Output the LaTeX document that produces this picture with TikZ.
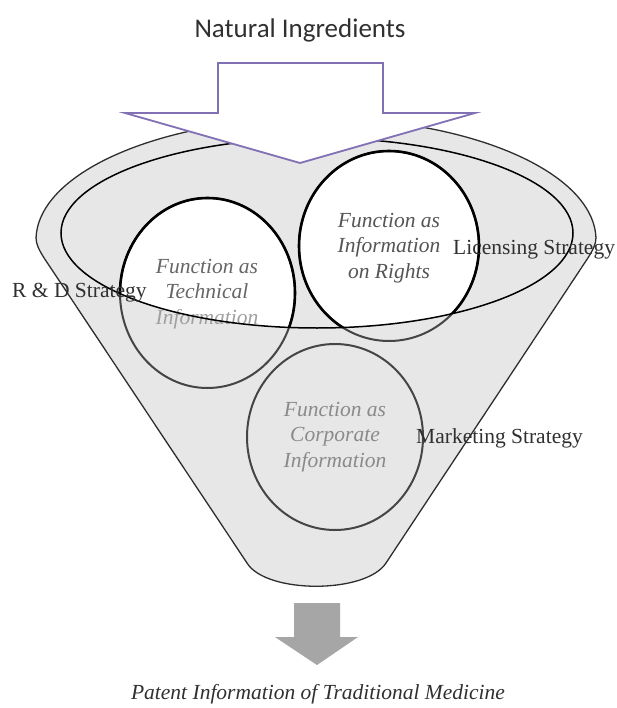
\documentclass[tikz,border=0pt]{standalone}
\usepackage{fontspec}
\setmainfont{Liberation Serif}
\newfontfamily\calib{Carlito}
\definecolor{fgray}{HTML}{E7E7E7}
\definecolor{outl}{HTML}{2E2E2E}
\definecolor{cgray}{HTML}{454545}
\definecolor{purp}{RGB}{130,112,180}
\definecolor{agray}{HTML}{A6A6A6}
\definecolor{tA}{HTML}{666666}
\definecolor{tB}{HTML}{A0A0A0}
\definecolor{tC}{HTML}{555555}
\definecolor{tD}{HTML}{8A8A8A}
\definecolor{lab}{HTML}{303030}
\begin{document}
\begin{tikzpicture}[x=1pt,y=-1pt,
  funnelstyle/.style={fill=fgray,draw=outl,line width=1.3pt},
  ellline/.style={draw=black,line width=1.5pt},
  outcirc/.style={draw=cgray,line width=2pt},
  incirc/.style={draw=black,line width=2.6pt},
  fn/.style={font=\fontsize{21.5}{25.5}\selectfont\itshape,align=center,inner sep=0pt},
  lbl/.style={font=\fontsize{21.5}{25.5}\selectfont,text=lab,inner sep=0pt},
  parrow/.style={fill=white,draw=purp,line width=1.8pt,line join=miter},
  garrow/.style={fill=agray,draw=none}]
\useasboundingbox (0,0) rectangle (616,708);
% funnel
\path[funnelstyle] (44.7,258.9) .. controls (39,250) and (36,244) .. (36.04,237.9)
  arc[start angle=181,end angle=359,x radius=280,y radius=122]
  .. controls (596,244) and (593,250) .. (587.3,258.9)
  -- (386,563) .. controls (366,594) and (266,594) .. (247,563) -- cycle;
% white intersections of the circles with the inner ellipse
\begin{scope}
  \clip (317,233) ellipse [x radius=256,y radius=95];
  \fill[white] (207.5,293) ellipse [x radius=87.5,y radius=95];
  \fill[white] (389,246) ellipse [x radius=90,y radius=95];
\end{scope}
% circle outlines (outside parts grey)
\draw[outcirc] (207.5,293) ellipse [x radius=87.5,y radius=95];
\draw[outcirc] (389,246) ellipse [x radius=90,y radius=95];
\draw[outcirc,fill=fgray] (335,437) ellipse [x radius=88,y radius=93];
% texts in circles
\node[fn,text=tA] (tech) at (207,294) {Function as\\Technical\\\textcolor{tB}{Information}};
\node[fn,text=tC] (rights) at (389,248) {Function as\\Information\\on Rights};
\node[fn,text=tD] (corp) at (335,437) {Function as\\Corporate\\Information};
% inner parts black
\begin{scope}
  \clip (317,233) ellipse [x radius=256,y radius=95];
  \draw[incirc] (207.5,293) ellipse [x radius=87.5,y radius=95];
  \draw[incirc] (389,246) ellipse [x radius=90,y radius=95];
\end{scope}
% inner ellipse line
\draw[ellline] (317,233) ellipse [x radius=256,y radius=95];
% purple arrow
\draw[parrow] (218,63) -- (383,63) -- (383,113) -- (475,113) -- (300,163) -- (125,113) -- (218,113) -- cycle;
% grey arrow
\fill[garrow] (294,603) -- (340,603) -- (340,637) -- (358,637) -- (317,665) -- (275,637) -- (294,637) -- cycle;
% labels
\node[lbl,anchor=west] (rd) at (12,293) {R \& D Strategy};
\node[lbl,anchor=west] (lic) at (453,250) {Licensing Strategy};
\node[lbl,anchor=west] (mkt) at (416,438) {Marketing Strategy};
\node[font=\calib\fontsize{27}{32}\selectfont,text=lab,inner sep=0pt] (nat) at (300,30) {Natural Ingredients};
\node[font=\fontsize{21.5}{25.5}\selectfont\itshape,text=lab,inner sep=0pt] (pat) at (318,694) {Patent Information of Traditional Medicine};
\end{tikzpicture}
\end{document}
